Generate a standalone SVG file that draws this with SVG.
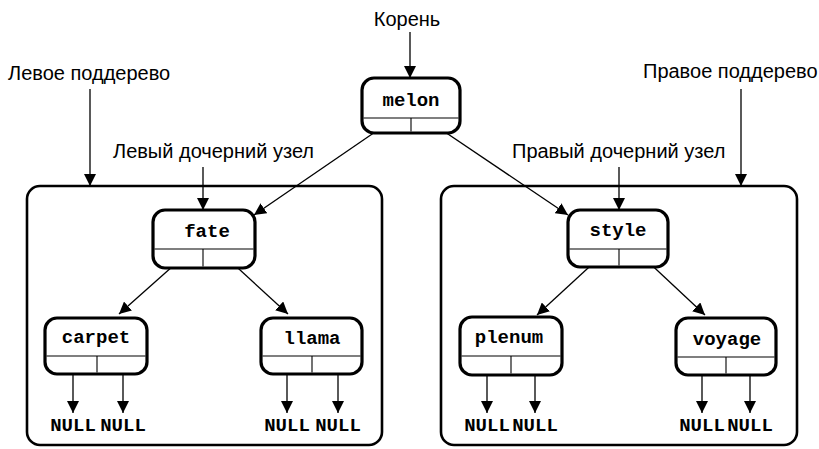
<svg xmlns="http://www.w3.org/2000/svg" width="819" height="449" viewBox="0 0 819 449">
<defs>
<marker id="ah" viewBox="0 0 12 12" refX="12" refY="6" markerWidth="12" markerHeight="12" markerUnits="userSpaceOnUse" orient="auto">
<path d="M0,0 L12,6 L0,12 Z" fill="#000"/>
</marker>
<style>
.lbl{font-family:"Liberation Sans",Arial,sans-serif;font-size:20px;fill:#000}
.nt{font-family:"Liberation Mono","Courier New",monospace;font-weight:bold;font-size:19px;fill:#000;text-anchor:middle}
.box{fill:#fff;stroke:#000;stroke-width:3.2}
.sub{fill:none;stroke:#000;stroke-width:2.6}
.div{stroke:#000;stroke-width:1.1;fill:none}
.con{stroke:#000;stroke-width:1.3;fill:none;marker-end:url(#ah)}
</style>
</defs>
<rect width="819" height="449" fill="#fff"/>
<g id="subtrees">
<rect class="sub" x="27" y="186" width="355" height="259" rx="13"/>
<rect class="sub" x="441" y="186" width="356" height="259" rx="13"/>
</g>
<g id="labels">
<text class="lbl" x="407" y="26" text-anchor="middle">Корень</text>
<text class="lbl" x="8" y="80">Левое поддерево</text>
<text class="lbl" x="113" y="158">Левый дочерний узел</text>
<text class="lbl" x="512" y="158">Правый дочерний узел</text>
<text class="lbl" x="643" y="78">Правое поддерево</text>
</g>
<g id="connectors">
<line class="con" x1="410" y1="32" x2="410" y2="78"/>
<line class="con" x1="90" y1="89" x2="90" y2="186"/>
<line class="con" x1="741" y1="89" x2="741" y2="186"/>
<line class="con" x1="203" y1="167" x2="203" y2="210"/>
<line class="con" x1="619" y1="167" x2="619" y2="210"/>
<line class="con" x1="378" y1="130" x2="254" y2="215"/>
<line class="con" x1="442" y1="130" x2="568" y2="215"/>
<line class="con" x1="182" y1="258" x2="119" y2="314"/>
<line class="con" x1="227" y1="258" x2="288" y2="314"/>
<line class="con" x1="600" y1="257" x2="537" y2="315"/>
<line class="con" x1="643" y1="257" x2="705" y2="315"/>
<line class="con" x1="73" y1="374" x2="73" y2="413"/>
<line class="con" x1="123" y1="374" x2="123" y2="413"/>
<line class="con" x1="287" y1="374" x2="287" y2="413"/>
<line class="con" x1="338" y1="374" x2="338" y2="413"/>
<line class="con" x1="487" y1="375" x2="487" y2="413"/>
<line class="con" x1="535" y1="375" x2="535" y2="413"/>
<line class="con" x1="702" y1="375" x2="702" y2="413"/>
<line class="con" x1="750" y1="375" x2="750" y2="413"/>
</g>
<g id="melon">
<rect class="box" x="362" y="78" width="98" height="55" rx="12"/>
<path class="div" d="M363.5,118 H458.5 M411,118 V131.5"/>
<text class="nt" x="411" y="106">melon</text>
</g>
<g id="fate">
<rect class="box" x="153" y="210" width="102" height="58" rx="12"/>
<path class="div" d="M154.5,249 H253.5 M203,249 V266.5"/>
<text class="nt" x="207" y="237">fate</text>
</g>
<g id="style">
<rect class="box" x="568" y="210" width="100" height="57" rx="12"/>
<path class="div" d="M569.5,249 H666.5 M619,249 V265.5"/>
<text class="nt" x="618" y="236">style</text>
</g>
<g id="carpet">
<rect class="box" x="45" y="318" width="102" height="56" rx="12"/>
<path class="div" d="M46.5,356 H145.5 M97,356 V372.5"/>
<text class="nt" x="96" y="343">carpet</text>
</g>
<g id="llama">
<rect class="box" x="261" y="318" width="101" height="56" rx="12"/>
<path class="div" d="M262.5,356 H360.5 M312,356 V372.5"/>
<text class="nt" x="312" y="344">llama</text>
</g>
<g id="plenum">
<rect class="box" x="460" y="317" width="102" height="58" rx="12"/>
<path class="div" d="M461.5,356 H560.5 M511,356 V373.5"/>
<text class="nt" x="509" y="343">plenum</text>
</g>
<g id="voyage">
<rect class="box" x="676" y="318" width="100" height="57" rx="12"/>
<path class="div" d="M677.5,357 H774.5 M726,357 V373.5"/>
<text class="nt" x="727" y="345">voyage</text>
</g>
<g id="nulls">
<text class="nt" x="73" y="431">NULL</text>
<text class="nt" x="123" y="431">NULL</text>
<text class="nt" x="287" y="431">NULL</text>
<text class="nt" x="338" y="431">NULL</text>
<text class="nt" x="487" y="431">NULL</text>
<text class="nt" x="535" y="431">NULL</text>
<text class="nt" x="702" y="431">NULL</text>
<text class="nt" x="750" y="431">NULL</text>
</g>
</svg>
